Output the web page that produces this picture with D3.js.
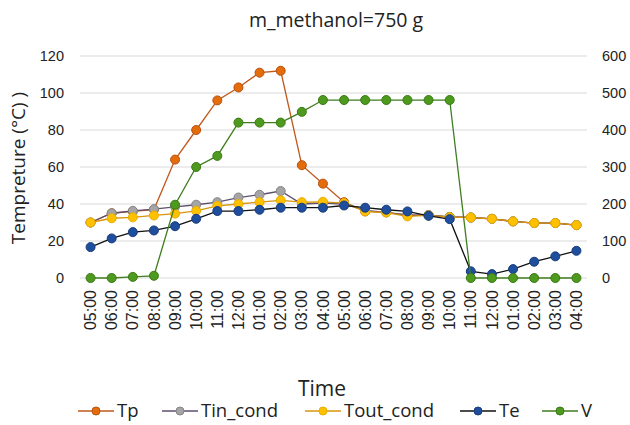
<!DOCTYPE html>
<html>
<head>
<meta charset="utf-8">
<script src="https://cdn.jsdelivr.net/npm/d3@7"></script>
<style>
  body { margin: 0; background: #fff; }
  svg { font-family: "Open Sans", "Liberation Sans", sans-serif; }
</style>
</head>
<body>
<div id="chart"></div>
<script>
// chart data
const times = ["05:00","06:00","07:00","08:00","09:00","10:00","11:00","12:00","01:00","02:00","03:00","04:00",
               "05:00","06:00","07:00","08:00","09:00","10:00","11:00","12:00","01:00","02:00","03:00","04:00"];
const tp      = [30, 35, 36, 37, 64, 80, 96, 103, 111, 112, 61, 51, 41, 36, 35.5, 34, 34, 33, 32.7, 32, 30.6, 29.7, 29.7, 28.6];
const tinCond = [30, 35, 36.3, 37.2, 38.5, 39.6, 41, 43.5, 45, 47, 40, 40.5, 40, 36.5, 35.5, 34, 34, 33, 32.7, 32, 30.6, 29.7, 29.7, 28.6];
const toutCond= [30, 32.3, 32.8, 33.8, 34.8, 36.3, 39, 40, 41, 42, 41, 41.2, 40.5, 36, 35.4, 33.3, 33.8, 32.9, 32.7, 32, 30.6, 29.7, 29.7, 28.6];
const te      = [16.7, 21.4, 24.8, 25.7, 28, 32, 36.2, 36.2, 36.9, 38, 38, 38, 39.2, 38, 36.9, 36, 33.6, 31.8, 3.6, 2.1, 4.8, 8.8, 11.7, 14.7];
const vol     = [0, 0, 3, 6, 198, 300, 330, 420, 420, 420, 449, 481, 481, 481, 481, 481, 481, 481, 0, 0, 0, 0, 0, 0];
const leftTicks = [0, 20, 40, 60, 80, 100, 120];
const rightTicks = [0, 100, 200, 300, 400, 500, 600];

const W = 630, H = 425;
const margin = { top: 56, right: 43, bottom: 147, left: 80 };
const width = W - margin.left - margin.right;
const height = H - margin.top - margin.bottom;

const svg = d3.select("#chart").append("svg")
  .attr("width", W).attr("height", H);

const g = svg.append("g")
  .attr("transform", `translate(${margin.left}, ${margin.top})`);

const x = d3.scaleBand().domain(d3.range(times.length)).range([0, width]);
const yL = d3.scaleLinear().domain([0, 120]).range([height, 0]);
const yR = d3.scaleLinear().domain([0, 600]).range([height, 0]);
const cx = i => x(i) + x.bandwidth() / 2;

// gridlines
g.selectAll(".grid").data(leftTicks).enter().append("line")
  .attr("x1", 0).attr("x2", width)
  .attr("y1", d => yL(d)).attr("y2", d => yL(d))
  .attr("stroke", "#d9d9d9").attr("stroke-width", 1);

// left axis
const axL = g.append("g").call(d3.axisLeft(yL).tickValues(leftTicks).tickSize(0).tickPadding(16));
axL.select(".domain").remove();
axL.selectAll("text").style("font-size", "14.5px").attr("fill", "#222");

// right axis
const axR = g.append("g").attr("transform", `translate(${width}, 0)`)
  .call(d3.axisRight(yR).tickValues(rightTicks).tickSize(0).tickPadding(15));
axR.select(".domain").remove();
axR.selectAll("text").style("font-size", "14.5px").attr("fill", "#222");

// bottom axis
const axB = g.append("g").attr("transform", `translate(0, ${height})`)
  .call(d3.axisBottom(x).tickFormat(i => times[i]).tickSize(0));
axB.select(".domain").remove();
axB.selectAll("text")
  .attr("transform", "rotate(-90)")
  .attr("x", -12).attr("y", 0).attr("dy", "0.35em")
  .style("text-anchor", "end")
  .style("font-size", "16px").attr("fill", "#222");

const series = [
  { name: "Tp",        values: tp,       y: yL, line: "#c0581c", fill: "#e46c0a", stroke: "#b8500e" },
  { name: "Tin_cond",  values: tinCond,  y: yL, line: "#5e4f6e", fill: "#a5a5a5", stroke: "#858585" },
  { name: "Tout_cond", values: toutCond, y: yL, line: "#d9940c", fill: "#ffc000", stroke: "#e8ae00" },
  { name: "Te",        values: te,       y: yL, line: "#111111", fill: "#1f4e9e", stroke: "#183d7a" },
  { name: "V",         values: vol,      y: yR, line: "#3f7d1f", fill: "#4e9a1e", stroke: "#3a7a14" }
];

series.forEach(s => {
  const line = d3.line().x((d, i) => cx(i)).y(d => s.y(d));
  g.append("path").datum(s.values)
    .attr("fill", "none").attr("stroke", s.line).attr("stroke-width", 1.3)
    .attr("d", line);
  g.selectAll(null).data(s.values).enter().append("circle")
    .attr("cx", (d, i) => cx(i)).attr("cy", d => s.y(d))
    .attr("r", 4.5)
    .attr("fill", s.fill).attr("stroke", s.stroke).attr("stroke-width", 1);
});

// title
svg.append("text").attr("x", 336).attr("y", 27)
  .attr("text-anchor", "middle").style("font-size", "19.5px").attr("fill", "#222")
  .text("m_methanol=750 g");

// y title
svg.append("text")
  .attr("transform", "translate(25, 168) rotate(-90)")
  .attr("text-anchor", "middle").style("font-size", "19px").attr("fill", "#222")
  .text("Tempreture (°C)  )");

// x title
svg.append("text").attr("x", 322).attr("y", 396)
  .attr("text-anchor", "middle").style("font-size", "21px").attr("fill", "#222")
  .text("Time");

// legend
const legendX = [78, 162, 305, 460, 542];
const legend = svg.selectAll(".legend").data(series).enter().append("g")
  .attr("transform", (d, i) => `translate(${legendX[i]}, 411)`);
legend.append("line").attr("x1", 0).attr("x2", 36).attr("y1", 0).attr("y2", 0)
  .attr("stroke", d => d.line).attr("stroke-width", 1.3);
legend.append("circle").attr("cx", 18).attr("cy", 0).attr("r", 4)
  .attr("fill", d => d.fill).attr("stroke", d => d.stroke);
legend.append("text").attr("x", 39).attr("y", 0).attr("dy", "0.35em")
  .style("font-size", "18.5px").attr("fill", "#222")
  .text(d => d.name);
</script>
</body>
</html>
